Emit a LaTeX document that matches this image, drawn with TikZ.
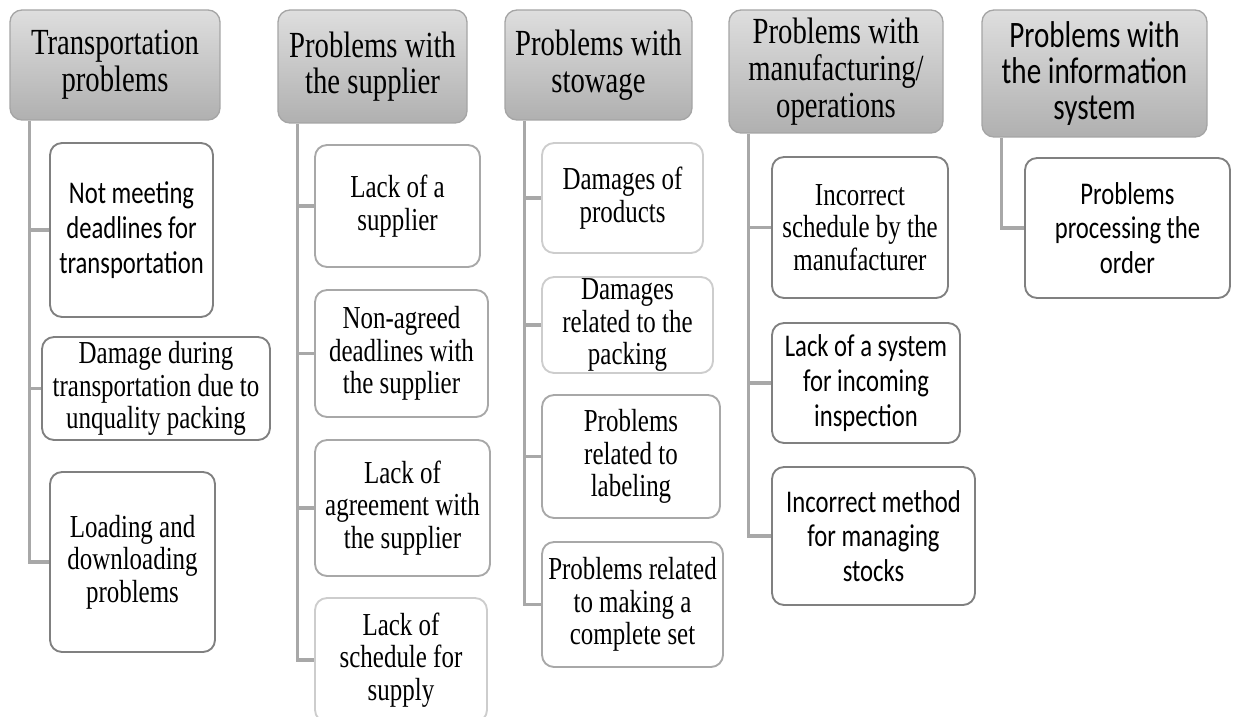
\documentclass[tikz,border=0pt]{standalone}
\usepackage{fontspec}
\usepackage{tikz}
\usetikzlibrary{backgrounds}
\newfontfamily\timesfnt[FakeStretch=0.78]{Liberation Serif}
\newfontfamily\calfnt[FakeStretch=0.78]{Carlito}
\definecolor{hdtop}{RGB}{222,222,222}
\definecolor{hdbot}{RGB}{176,176,176}
\definecolor{hdline}{RGB}{165,165,165}
\definecolor{lfdark}{RGB}{128,128,128}
\definecolor{lfmid}{RGB}{168,168,168}
\definecolor{lflight}{RGB}{205,205,205}
\definecolor{cnline}{RGB}{168,168,168}
\tikzset{
  dims/.style 2 args={minimum width=#1*0.75pt, minimum height=#2*0.75pt},
  head/.style={draw=hdline, line width=1pt, rounded corners=9pt, top color=hdtop, bottom color=hdbot, align=center, inner sep=0pt},
  leaf/.style={draw=lfdark, line width=1.4pt, rounded corners=9pt, fill=white, align=center, inner sep=0pt},
  leafm/.style={leaf, draw=lfmid},
  leafl/.style={leaf, draw=lflight},
  conn/.style={draw=cnline, line width=2.4pt},
  serh/.style={font=\timesfnt\fontsize{27.6}{27.5}\selectfont},
  sanh/.style={font=\calfnt\fontsize{28}{27}\selectfont},
  serl/.style={font=\timesfnt\fontsize{24}{24.5}\selectfont},
  sanl/.style={font=\calfnt\fontsize{23.7}{26}\selectfont},
}
\begin{document}
\begin{tikzpicture}[x=0.75pt, y=-0.75pt]
  \useasboundingbox (0,0) rectangle (1233,717);
  % headers
  \node[head, serh, dims={210}{110}] (h1) at (115,65) {Transportation\\problems};
  \node[head, serh, dims={189}{113}] (h2) at (372.5,66.5) {Problems with\\the supplier};
  \node[head, serh, dims={187}{110}] (h3) at (598.5,65) {Problems with\\stowage};
  \node[head, serh, dims={214}{123}] (h4) at (836,71.5) {Problems with\\manufacturing/\\operations};
  \node[head, sanh, dims={225}{127}] (h5) at (1094.5,73.5) {Problems with\\the information\\system};
  % transportation
  \node[leaf, sanl, dims={163}{174}] (c11) at (131.5,230) {Not meeting\\deadlines for\\transportation};
  \node[leaf, serl, dims={228}{103}] (c12) at (156,388.5) {Damage during\\transportation due to\\unquality packing};
  \node[leaf, serl, dims={165}{180}] (c13) at (132.5,562) {Loading and\\downloading\\problems};
  % supplier
  \node[leafm, serl, dims={165}{122}] (c21) at (397.5,206) {Lack of a\\supplier};
  \node[leafm, serl, dims={173}{127}] (c22) at (401.5,353.5) {Non-agreed\\deadlines with\\the supplier};
  \node[leafm, serl, dims={175}{136}] (c23) at (402.5,508) {Lack of\\agreement with\\the supplier};
  \node[leafl, serl, dims={172}{124}] (c24) at (401,660) {Lack of\\schedule for\\supply};
  % stowage
  \node[leafl, serl, dims={161}{110}] (c31) at (622.5,198) {Damages of\\products};
  \node[leafl, serl, dims={171}{96}] (c32) at (627.5,325) {Damages\\related to the\\packing};
  \node[leafm, serl, dims={178}{123}] (c33) at (631,456.5) {Problems\\related to\\labeling};
  \node[leafm, serl, dims={181}{125}] (c34) at (632.5,604.5) {Problems related\\to making a\\complete set};
  % manufacturing
  \node[leaf, serl, dims={176}{141}] (c41) at (860,227.5) {Incorrect\\schedule by the\\manufacturer};
  \node[leaf, sanl, dims={188}{120}] (c42) at (866,383) {Lack of a system\\for incoming\\inspection};
  \node[leaf, sanl, dims={203}{138}] (c43) at (873.5,536) {Incorrect method\\for managing\\stocks};
  % information system
  \node[leaf, sanl, dims={205}{140}] (c51) at (1127.5,228) {Problems\\processing the\\order};

  \begin{scope}[on background layer]
    \foreach \h in {1,...,5}
      \coordinate (t\h) at ([xshift=15pt]h\h.south west);
    \draw[conn] (t1) |- (c13.west);
    \draw[conn] (t2) |- (c24.west);
    \draw[conn] (t3) |- (c34.west);
    \draw[conn] (t4) |- (c43.west);
    \draw[conn] (t5) |- (c51.west);
    \foreach \c/\t in {c11/t1, c12/t1, c21/t2, c22/t2, c23/t2, c31/t3, c32/t3, c33/t3, c41/t4, c42/t4}
      \draw[conn] (\t |- \c.west) -- (\c.west);
  \end{scope}
\end{tikzpicture}
\end{document}
